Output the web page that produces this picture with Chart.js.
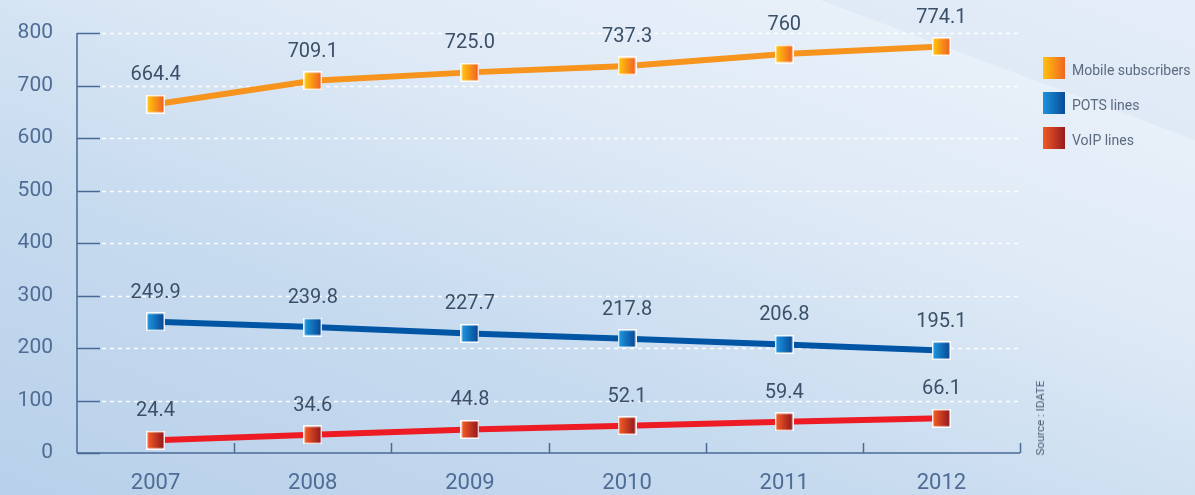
<!DOCTYPE html>
<html>
<head>
<meta charset="utf-8">
<script src="https://cdn.jsdelivr.net/npm/chart.js@4.4.1/dist/chart.umd.min.js"></script>
<style>
	html, body { margin: 0; padding: 0; }
	body {
		width: 1195px; height: 495px; overflow: hidden; position: relative;
		font-family: Roboto, "Open Sans", sans-serif;
		background: linear-gradient(200deg, #eef4fb 0%, #dfeaf6 35%, #c7dbef 65%, #b8d0ea 100%);
	}
	.shade {
		position: absolute; left: 0; top: 0; width: 1195px; height: 495px;
		background: rgba(205, 222, 241, 0.3);
		clip-path: polygon(820px 0, 1195px 0, 1195px 140px);
	}
	canvas { position: absolute; left: 0; top: 0; }
	.legend { position: absolute; left: 1043px; top: 57px; }
	.legend div { height: 22px; margin-bottom: 13px; display: flex; align-items: center; white-space: nowrap; }
	.legend span.box { width: 22px; height: 22px; display: inline-block; margin-right: 7px; }
	.legend span.txt { font-size: 14px; color: #5a6b80; padding-top: 4px; }
	.source {
		position: absolute; left: 1040px; top: 418px; font-size: 11.5px; color: #4a5d78;
		transform: translate(-50%, -50%) rotate(-90deg); white-space: nowrap;
	}
</style>
</head>
<body>
<div class="shade"></div>
<canvas id="chart" width="1195" height="495"></canvas>
<div class="legend" id="legend"></div>
<div class="source">Source : IDATE</div>
<script>
// Data
const years = ['2007', '2008', '2009', '2010', '2011', '2012'];
const mobile = [664.4, 709.1, 725.0, 737.3, 760, 774.1];
const pots = [249.9, 239.8, 227.7, 217.8, 206.8, 195.1];
const voip = [24.4, 34.6, 44.8, 52.1, 59.4, 66.1];
const mobileLabels = ['664.4', '709.1', '725.0', '737.3', '760', '774.1'];
const potsLabels = ['249.9', '239.8', '227.7', '217.8', '206.8', '195.1'];
const voipLabels = ['24.4', '34.6', '44.8', '52.1', '59.4', '66.1'];
const yTicks = [0, 100, 200, 300, 400, 500, 600, 700, 800];

// Colours for each series: line, marker gradient start, marker gradient end
const series = [
	{ name: 'Mobile subscribers', data: mobile, labels: mobileLabels, line: '#f7941d', from: '#ffc20e', to: '#f26522' },
	{ name: 'POTS lines', data: pots, labels: potsLabels, line: '#0055a5', from: '#1c93dc', to: '#0a4b98' },
	{ name: 'VoIP lines', data: voip, labels: voipLabels, line: '#ed1c24', from: '#f15a24', to: '#981b1e' }
];

// Build a square marker with a gradient and a white border
function makeMarker(from, to) {
	const size = 19;
	const c = document.createElement('canvas');
	c.width = size;
	c.height = size;
	const ctx = c.getContext('2d');
	ctx.fillStyle = 'rgba(255,255,255,0.95)';
	ctx.fillRect(0, 0, size, size);
	const g = ctx.createLinearGradient(2, 0, size - 2, 0);
	g.addColorStop(0, from);
	g.addColorStop(1, to);
	ctx.fillStyle = g;
	ctx.fillRect(1.5, 1.5, size - 3, size - 3);
	return c;
}

// HTML legend
const legendEl = document.getElementById('legend');
series.forEach((s) => {
	const row = document.createElement('div');
	row.innerHTML = '<span class="box" style="background:linear-gradient(90deg,' + s.from + ',' + s.to + ')"></span><span class="txt">' + s.name + '</span>';
	legendEl.appendChild(row);
});

const axisColor = '#4a6a96';

// Axes, ticks, dashed grid and the value labels
const decor = {
	id: 'decor',
	beforeDatasetsDraw(chart) {
		const ctx = chart.ctx;
		const x = chart.scales.x;
		const y = chart.scales.y;
		const area = chart.chartArea;
		ctx.save();
		// dashed grid
		ctx.strokeStyle = 'rgba(255,255,255,0.95)';
		ctx.lineWidth = 1.5;
		ctx.setLineDash([4, 4]);
		yTicks.forEach((v) => {
			if (v === 0) return;
			const py = Math.round(y.getPixelForValue(v)) + 0.5;
			ctx.beginPath();
			ctx.moveTo(area.left + 25, py);
			ctx.lineTo(area.right, py);
			ctx.stroke();
		});
		ctx.setLineDash([]);
		// y axis and its ticks
		ctx.strokeStyle = axisColor;
		ctx.lineWidth = 1.5;
		ctx.beginPath();
		ctx.moveTo(area.left, area.top);
		ctx.lineTo(area.left, area.bottom);
		ctx.stroke();
		yTicks.forEach((v) => {
			const py = Math.round(y.getPixelForValue(v)) + 0.5;
			ctx.beginPath();
			ctx.moveTo(area.left, py);
			ctx.lineTo(area.left + 23, py);
			ctx.stroke();
		});
		// x axis with upward ticks between categories
		ctx.beginPath();
		ctx.moveTo(area.left, area.bottom);
		ctx.lineTo(area.right, area.bottom);
		ctx.stroke();
		const half = (x.getPixelForValue(1) - x.getPixelForValue(0)) / 2;
		years.forEach((yr, i) => {
			const px = Math.round(x.getPixelForValue(i) + half) + 0.5;
			ctx.beginPath();
			ctx.moveTo(px, area.bottom);
			ctx.lineTo(px, area.bottom - 10);
			ctx.stroke();
		});
		ctx.restore();
	},
	afterDatasetsDraw(chart) {
		const ctx = chart.ctx;
		ctx.save();
		ctx.font = '20px Roboto';
		ctx.fillStyle = '#3b5068';
		ctx.textAlign = 'center';
		ctx.textBaseline = 'middle';
		chart.data.datasets.forEach((ds, i) => {
			chart.getDatasetMeta(i).data.forEach((pt, j) => {
				ctx.fillText(series[i].labels[j], pt.x, pt.y - 29);
			});
		});
		ctx.restore();
	}
};

new Chart(document.getElementById('chart'), {
	type: 'line',
	data: {
		labels: years,
		datasets: series.map((s) => ({
			label: s.name,
			data: s.data,
			borderColor: s.line,
			backgroundColor: s.line,
			borderWidth: 6,
			pointStyle: makeMarker(s.from, s.to),
			pointRadius: 10,
			pointHoverRadius: 10,
			tension: 0
		}))
	},
	options: {
		responsive: false,
		animation: false,
		layout: { padding: { top: 33, right: 175, left: 0, bottom: 0 } },
		plugins: {
			legend: { display: false },
			tooltip: { enabled: false }
		},
		scales: {
			x: {
				offset: true,
				grid: { display: false },
				border: { display: false },
				ticks: { color: '#4e6c95', font: { family: 'Roboto', size: 22 }, padding: 9 },
				afterFit: (scale) => { scale.height = 42; }
			},
			y: {
				min: 0,
				max: 800,
				grid: { display: false },
				border: { display: false },
				ticks: { stepSize: 100, color: '#4e6c95', font: { family: 'Roboto', size: 21 }, padding: 16 },
				afterFit: (scale) => { scale.width = 77; }
			}
		}
	},
	plugins: [decor]
});
</script>
</body>
</html>
